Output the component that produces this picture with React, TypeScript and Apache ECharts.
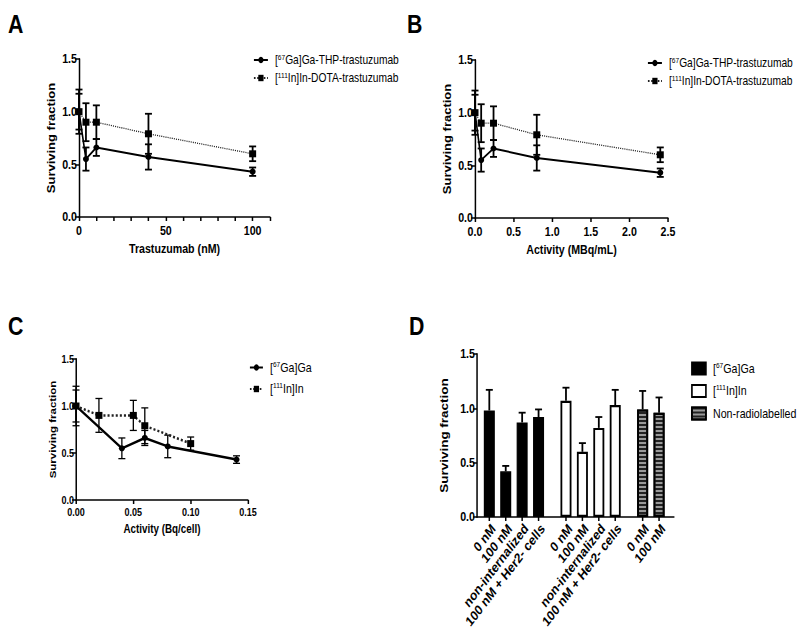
import React, { useEffect, useRef } from 'react';
import * as echarts from 'echarts';

const FONT = "'Liberation Sans', Arial, sans-serif";

// ---- Panels A & B: dose response ----
const concNM = [0, 4, 10, 40, 100];
const activityMBq = [0, 0.08, 0.24, 0.8, 2.4];
const gaSF = [1.0, 0.55, 0.66, 0.57, 0.43];
const gaErr = [0.21, 0.11, 0.08, 0.12, 0.04];
const inSF = [1.0, 0.9, 0.9, 0.79, 0.6];
const inErr = [0.17, 0.18, 0.16, 0.19, 0.07];

// ---- Panel C: activity per cell ----
const gaBqCell = [0, 0.04, 0.06, 0.08, 0.14];
const inBqCell = [0, 0.02, 0.05, 0.06, 0.1];

// ---- Panel D: bar chart ----
const gaBarLabels = ['0 nM', '100 nM', 'non-internalized', '100 nM + Her2- cells'];
const gaBar = [0.98, 0.42, 0.87, 0.92];
const gaBarErr = [0.19, 0.05, 0.09, 0.07];
const inBarLabels = ['0 nM', '100 nM', 'non-internalized', '100 nM + Her2- cells'];
const inBar = [1.07, 0.6, 0.82, 1.03];
const inBarErr = [0.12, 0.08, 0.1, 0.14];
const nonBarLabels = ['0 nM', '100 nM'];
const nonBar = [0.99, 0.96];
const nonBarErr = [0.17, 0.14];

const legendNames: Record<string, string> = {
  'A-Ga': '[{sup|67}Ga]Ga-THP-trastuzumab',
  'A-In': '[{sup|111}In]In-DOTA-trastuzumab',
  'B-Ga': '[{sup|67}Ga]Ga-THP-trastuzumab',
  'B-In': '[{sup|111}In]In-DOTA-trastuzumab',
  'C-Ga': '[{sup|67}Ga]Ga',
  'C-In': '[{sup|111}In]In',
  'D-Ga': '[{sup|67}Ga]Ga',
  'D-In': '[{sup|111}In]In',
  'D-Non': 'Non-radiolabelled',
};

// The figure is rendered wider and squeezed horizontally (narrow type look).
const CW = 976;
const S = 800 / CW;
const hx = (v: number) => v / S;

const GROUP_GAP = 0.67;

function groupPositions() {
  const pos: number[] = [];
  let p = 0;
  [gaBar, inBar, nonBar].forEach((g, gi) => {
    if (gi > 0) p += GROUP_GAP;
    g.forEach(() => {
      pos.push(p);
      p += 1;
    });
  });
  return pos;
}

function errSeries(
  xIdx: number,
  xs: number[],
  ys: number[],
  errs: number[],
  capHalf: number,
  lw: number,
  upperOnly = false
) {
  return {
    type: 'custom',
    xAxisIndex: xIdx,
    yAxisIndex: xIdx,
    silent: true,
    clip: false,
    z: 3,
    data: xs.map((x, i) => [x, upperOnly ? ys[i] : ys[i] - errs[i], ys[i] + errs[i]]),
    renderItem: (params: any, api: any) => {
      const lo = api.coord([api.value(0), api.value(1)]);
      const hi = api.coord([api.value(0), api.value(2)]);
      const v = { stroke: '#000', lineWidth: lw / S };
      const h = { stroke: '#000', lineWidth: lw };
      const c = hx(capHalf);
      const children: any[] = [
        { type: 'line', shape: { x1: lo[0], y1: lo[1], x2: hi[0], y2: hi[1] }, style: v },
        { type: 'line', shape: { x1: hi[0] - c, y1: hi[1], x2: hi[0] + c, y2: hi[1] }, style: h },
      ];
      if (!upperOnly) {
        children.push({ type: 'line', shape: { x1: lo[0] - c, y1: lo[1], x2: lo[0] + c, y2: lo[1] }, style: h });
      }
      return { type: 'group', children };
    },
  };
}

function yAxis(gridIndex: number, fs: number, nameFs: number, nameGap: number) {
  return {
    type: 'value',
    gridIndex,
    min: 0,
    max: 1.5,
    interval: 0.5,
    name: 'Surviving fraction',
    nameLocation: 'middle',
    nameGap: hx(nameGap),
    nameTextStyle: { fontFamily: FONT, fontWeight: 'bold', fontSize: nameFs, color: '#000' },
    axisLine: { show: true, onZero: false, lineStyle: { color: '#000', width: 1.5 / S } },
    axisTick: { show: true, length: hx(4), lineStyle: { color: '#000', width: 1.5 } },
    axisLabel: {
      margin: hx(2),
      fontFamily: FONT,
      fontWeight: 'bold',
      fontSize: fs,
      color: '#000',
      formatter: (v: number) => v.toFixed(1),
    },
    splitLine: { show: false },
  };
}

function xAxis(
  gridIndex: number,
  name: string,
  max: number,
  interval: number,
  fmt: (v: number) => string,
  fs: number,
  nameFs: number,
  nameGap: number
) {
  return {
    type: 'value',
    gridIndex,
    min: 0,
    max,
    interval,
    name,
    nameLocation: 'middle',
    nameGap,
    nameTextStyle: { fontFamily: FONT, fontWeight: 'bold', fontSize: nameFs, color: '#000' },
    axisLine: { show: true, onZero: false, lineStyle: { color: '#000', width: 1.5 } },
    axisTick: { show: true, length: 4, lineStyle: { color: '#000', width: 1.5 / S } },
    axisLabel: { margin: 7, fontFamily: FONT, fontWeight: 'bold', fontSize: fs, color: '#000', formatter: fmt },
    splitLine: { show: false },
  };
}

function lineSeries(name: string, idx: number, xs: number[], ys: number[], isGa: boolean, lw: number) {
  return {
    name,
    type: 'line',
    xAxisIndex: idx,
    yAxisIndex: idx,
    data: xs.map((x, i) => [x, ys[i]]),
    symbol: isGa ? 'circle' : 'rect',
    symbolSize: isGa ? [hx(6), 6] : [hx(7), 7],
    showSymbol: true,
    z: 4,
    lineStyle: { color: isGa ? '#000' : '#222', width: lw, type: isGa ? 'solid' : 'dotted' },
    itemStyle: { color: '#000' },
  };
}

const richText = (fs: number, lh: number) => ({
  fontFamily: FONT,
  fontSize: fs,
  color: '#000',
  lineHeight: lh,
  padding: [0, 0, 0, hx(3)],
  rich: {
    sup: { fontFamily: FONT, fontSize: Math.round(fs * 0.62), lineHeight: Math.round(fs * 0.62), verticalAlign: 'top', color: '#000' },
  },
});

export default function App() {
  const ref = useRef<HTMLDivElement>(null);
  useEffect(() => {
    if (!ref.current) return;
    const chart = echarts.init(ref.current, undefined, { renderer: 'svg' });
    const pos = groupPositions();
    const allLabels = [...gaBarLabels, ...inBarLabels, ...nonBarLabels];
    const gaPos = pos.slice(0, gaBar.length);
    const inPos = pos.slice(gaBar.length, gaBar.length + inBar.length);
    const nonPos = pos.slice(gaBar.length + inBar.length);

    const labelFont = (fs: number) => ({ fontFamily: FONT, fontWeight: 'bold', fontSize: fs, fill: '#000' });

    const option: any = {
      animation: false,
      backgroundColor: '#fff',
      textStyle: { fontFamily: FONT },
      graphic: [
        { type: 'text', left: hx(8), top: 11, style: { text: 'A', ...labelFont(26) } },
        { type: 'text', left: hx(407), top: 11, style: { text: 'B', ...labelFont(26) } },
        { type: 'text', left: hx(8), top: 313, style: { text: 'C', ...labelFont(26) } },
        { type: 'text', left: hx(409), top: 313, style: { text: 'D', ...labelFont(26) } },
      ],
      grid: [
        { left: hx(79), top: 59, width: hx(191), height: 158 },
        { left: hx(475), top: 60, width: hx(193), height: 158 },
        { left: hx(76), top: 359, width: hx(172), height: 141 },
        { left: hx(477), top: 354, width: hx(197), height: 163 },
      ],
      xAxis: [
        xAxis(0, 'Trastuzumab (nM)', 110, 10, (v) => (v % 50 === 0 ? String(v) : ''), 13, 13, 25),
        xAxis(1, 'Activity (MBq/mL)', 2.5, 0.5, (v) => v.toFixed(1), 13, 13, 25),
        xAxis(2, 'Activity (Bq/cell)', 0.15, 0.05, (v) => v.toFixed(2), 11, 12, 23),
        {
          type: 'value',
          gridIndex: 3,
          min: -0.75,
          max: 11.25,
          axisLine: { show: true, onZero: false, lineStyle: { color: '#000', width: 1.5 } },
          axisTick: { show: false },
          axisLabel: { show: false },
          splitLine: { show: false },
        },
      ],
      yAxis: [yAxis(0, 13, 13, 22), yAxis(1, 13, 13, 22), yAxis(2, 11, 11.5, 19), yAxis(3, 13, 13.5, 27)],
      legend: [
        {
          data: ['A-Ga', 'A-In'],
          orient: 'vertical',
          left: hx(249),
          top: 48,
          itemWidth: hx(14),
          itemHeight: 8,
          itemGap: 4,
          formatter: (n: string) => legendNames[n],
          textStyle: richText(12.5, 14),
        },
        {
          data: ['B-Ga', 'B-In'],
          orient: 'vertical',
          left: hx(643),
          top: 51,
          itemWidth: hx(14),
          itemHeight: 8,
          itemGap: 4,
          formatter: (n: string) => legendNames[n],
          textStyle: richText(12.5, 14),
        },
        {
          data: ['C-Ga', 'C-In'],
          orient: 'vertical',
          left: hx(245),
          top: 355,
          itemWidth: hx(13),
          itemHeight: 8,
          itemGap: 6.5,
          formatter: (n: string) => legendNames[n],
          textStyle: richText(13, 15),
        },
        {
          data: ['D-Ga', 'D-In', 'D-Non'],
          orient: 'vertical',
          left: hx(687),
          top: 356,
          itemWidth: hx(14),
          itemHeight: 12,
          itemGap: 7.5,
          icon: 'rect',
          formatter: (n: string) => legendNames[n],
          textStyle: richText(13, 15),
        },
      ],
      series: [
        // A
        errSeries(0, concNM, gaSF, gaErr, 3.5, 1.8),
        errSeries(0, concNM, inSF, inErr, 3.5, 1.8),
        lineSeries('A-Ga', 0, concNM, gaSF, true, 2),
        lineSeries('A-In', 0, concNM, inSF, false, 1.3),
        // B
        errSeries(1, activityMBq, gaSF, gaErr, 3.5, 1.8),
        errSeries(1, activityMBq, inSF, inErr, 3.5, 1.8),
        lineSeries('B-Ga', 1, activityMBq, gaSF, true, 2),
        lineSeries('B-In', 1, activityMBq, inSF, false, 1.3),
        // C
        errSeries(2, gaBqCell, gaSF, gaErr, 3.5, 1.3),
        errSeries(2, inBqCell, inSF, inErr, 3.5, 1.3),
        lineSeries('C-Ga', 2, gaBqCell, gaSF, true, 2.5),
        lineSeries('C-In', 2, inBqCell, inSF, false, 2.5),
        // D bars
        {
          name: 'D-Ga',
          type: 'bar',
          xAxisIndex: 3,
          yAxisIndex: 3,
          barWidth: hx(11),
          barGap: '-100%',
          data: gaPos.map((p, i) => [p, gaBar[i]]),
          itemStyle: { color: '#000', borderColor: '#000', borderWidth: 1.5 },
        },
        {
          name: 'D-In',
          type: 'bar',
          xAxisIndex: 3,
          yAxisIndex: 3,
          barWidth: hx(11),
          barGap: '-100%',
          data: inPos.map((p, i) => [p, inBar[i]]),
          itemStyle: { color: '#fff', borderColor: '#000', borderWidth: 2.2 },
        },
        {
          name: 'D-Non',
          type: 'bar',
          xAxisIndex: 3,
          yAxisIndex: 3,
          barWidth: hx(11),
          barGap: '-100%',
          data: nonPos.map((p, i) => [p, nonBar[i]]),
          itemStyle: {
            color: '#9a9a9a',
            borderColor: '#000',
            borderWidth: 2.2,
            decal: {
              symbol: 'rect',
              symbolSize: 1,
              dashArrayX: [1, 0],
              dashArrayY: [1.5, 1.5],
              rotation: 0,
              color: '#222',
            },
          },
        },
        errSeries(3, gaPos, gaBar, gaBarErr, 3.5, 1.8, true),
        errSeries(3, inPos, inBar, inBarErr, 3.5, 1.8, true),
        errSeries(3, nonPos, nonBar, nonBarErr, 3.5, 1.8, true),
        // D category ticks and rotated labels
        {
          type: 'custom',
          xAxisIndex: 3,
          yAxisIndex: 3,
          silent: true,
          clip: false,
          data: pos.map((p, i) => [p, i]),
          renderItem: (params: any, api: any) => {
            const pt = api.coord([api.value(0), 0]);
            const i = api.value(1);
            return {
              type: 'group',
              children: [
                { type: 'line', shape: { x1: pt[0], y1: pt[1], x2: pt[0], y2: pt[1] + 4 }, style: { stroke: '#000', lineWidth: 1.5 / S } },
                {
                  type: 'text',
                  x: pt[0] + hx(4),
                  y: pt[1] + 9,
                  rotation: (47 * Math.PI) / 180,
                  style: {
                    text: allLabels[i],
                    align: 'right',
                    verticalAlign: 'middle',
                    fontFamily: FONT,
                    fontWeight: 'bold',
                    fontSize: 14,
                    fill: '#000',
                  },
                },
              ],
            };
          },
        },
      ],
    };
    chart.setOption(option);
    return () => chart.dispose();
  }, []);
  return (
    <div
      ref={ref}
      style={{
        position: 'fixed',
        left: 0,
        top: 0,
        width: CW,
        height: 632,
        transform: `scaleX(${S})`,
        transformOrigin: '0 0',
      }}
    />
  );
}
